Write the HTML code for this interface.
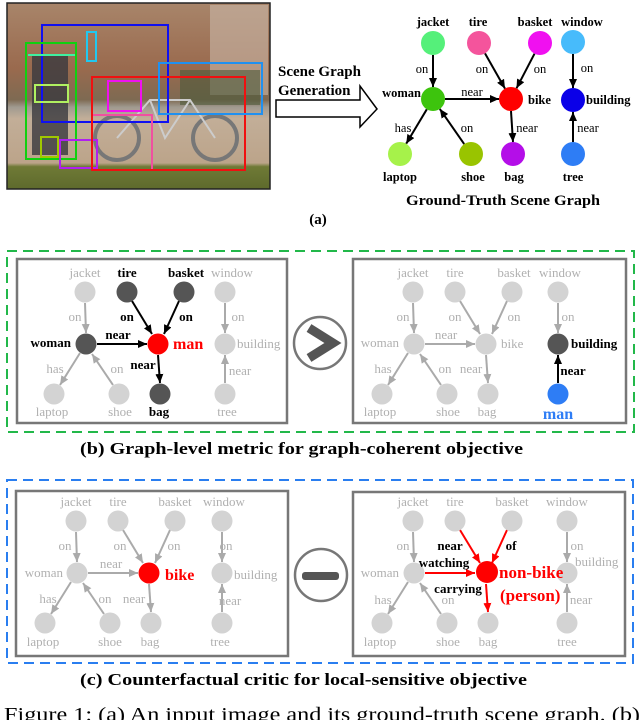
<!DOCTYPE html>
<html><head><meta charset="utf-8"><style>
html,body{margin:0;padding:0;background:#fff;}
svg{display:block;font-family:"Liberation Serif",serif;}
.g{fill:#b0b0b0;font-size:13px;}
.k{fill:#000;font-size:13px;font-weight:bold;}
.m{text-anchor:middle;}
.e{text-anchor:end;}
</style></head><body>
<svg width="640" height="720" viewBox="0 0 640 720" xmlns="http://www.w3.org/2000/svg">
<defs>
<marker id="ak" markerUnits="userSpaceOnUse" markerWidth="9" markerHeight="8" refX="9" refY="4" orient="auto"><path d="M0,0L9,4L0,8z" fill="#000"/></marker>
<marker id="ag" markerUnits="userSpaceOnUse" markerWidth="9" markerHeight="8" refX="9" refY="4" orient="auto"><path d="M0,0L9,4L0,8z" fill="#aaa"/></marker>
<marker id="ar" markerUnits="userSpaceOnUse" markerWidth="9" markerHeight="8" refX="9" refY="4" orient="auto"><path d="M0,0L9,4L0,8z" fill="#f00"/></marker>
<linearGradient id="ph" x1="0" y1="0" x2="0" y2="1">
<stop offset="0" stop-color="#a8856a"/><stop offset="0.35" stop-color="#9a6a4e"/><stop offset="0.52" stop-color="#7e6a52"/><stop offset="0.56" stop-color="#a09a90"/><stop offset="0.62" stop-color="#c2ae98"/><stop offset="0.86" stop-color="#bca48a"/><stop offset="0.88" stop-color="#6f7a36"/><stop offset="1" stop-color="#5e6a2c"/>
</linearGradient>
</defs>

<!-- (a) photo -->
<rect x="7" y="3" width="263" height="186" fill="url(#ph)" stroke="#222" stroke-width="1.5"/>
<rect x="210" y="5" width="58" height="90" fill="#c9b8a8" opacity="0.6"/>
<rect x="180" y="70" width="80" height="35" fill="#4d5a3a" opacity="0.6"/>
<ellipse cx="117" cy="138" rx="22" ry="22" fill="none" stroke="#777" stroke-width="4"/>
<ellipse cx="215" cy="138" rx="22" ry="22" fill="none" stroke="#777" stroke-width="4"/>
<path d="M117,138 L150,100 L190,100 L215,138 M150,100 L165,138 L190,100" fill="none" stroke="#ccc" stroke-width="2"/>
<rect x="32" y="55" width="36" height="100" fill="#3a3a3e" opacity="0.8"/>
<g fill="none" stroke-width="2">
<rect x="42" y="25" width="126" height="97" stroke="#1010f0"/>
<rect x="87" y="32" width="9" height="29" stroke="#20c8f0"/>
<rect x="26" y="43" width="50" height="116" stroke="#10d010"/>
<line x1="28" y1="55" x2="75" y2="55" stroke="#40f0a0"/>
<rect x="35" y="85" width="33" height="17" stroke="#b0f060"/>
<rect x="41" y="137" width="17" height="20" stroke="#a0c800"/>
<rect x="60" y="140" width="37" height="28" stroke="#b020f0"/>
<rect x="92" y="115" width="60" height="55" stroke="#f050a0"/>
<rect x="92" y="77" width="153" height="93" stroke="#f01010"/>
<rect x="108" y="81" width="33" height="30" stroke="#f010f0"/>
<rect x="159" y="63" width="103" height="51" stroke="#2090f0"/>
</g>

<text x="278" y="76" style="font-size:15px;font-weight:bold">Scene Graph</text>
<text x="278" y="95" style="font-size:15px;font-weight:bold">Generation</text>
<path d="M276,100 L360,100 L360,86 L377,109 L360,127 L360,117 L276,117 Z" fill="#fff" stroke="#000" stroke-width="1.5"/>

<!-- (a) graph -->
<g stroke="#000" stroke-width="2" marker-end="url(#ak)">
<path d="M433,55L433,87"/><path d="M485,53.4L505,88.6"/><path d="M534.5,53.7L516.5,88.3"/>
<path d="M573,54L573,88"/><path d="M445,99L499,99"/><path d="M511,111L513,142"/>
<path d="M426.8,109.3L406.2,143.7"/><path d="M464.2,144.1L439.8,108.9"/><path d="M573,142L573,112"/>
</g>
<circle cx="433" cy="43" r="12" fill="#55f07a"/><circle cx="479" cy="43" r="12" fill="#f4549c"/>
<circle cx="540" cy="43" r="12" fill="#f010f0"/><circle cx="573" cy="42" r="12" fill="#47bbfb"/>
<circle cx="433" cy="99" r="12" fill="#3dc40d"/><circle cx="511" cy="99" r="12" fill="#f00"/>
<circle cx="573" cy="100" r="12" fill="#0a00e8"/><circle cx="400" cy="154" r="12" fill="#a6f24a"/>
<circle cx="471" cy="154" r="12" fill="#99c400"/><circle cx="513" cy="154" r="12" fill="#b40ee8"/>
<circle cx="573" cy="154" r="12" fill="#2e7df5"/>
<g class="k" style="font-size:12.5px">
<text class="m" x="433" y="26">jacket</text><text class="m" x="478" y="26">tire</text>
<text class="m" x="535" y="26">basket</text><text class="m" x="582" y="26">window</text>
<text class="e" x="421" y="97">woman</text><text x="528" y="104">bike</text>
<text x="586" y="104">building</text><text class="m" x="400" y="181">laptop</text>
<text class="m" x="473" y="181">shoe</text><text class="m" x="514" y="181">bag</text>
<text class="m" x="573" y="181">tree</text>
</g>
<g style="font-size:12.5px" class="m">
<text x="422" y="73">on</text><text x="482" y="73">on</text><text x="540" y="73">on</text>
<text x="587" y="72">on</text><text x="472" y="96">near</text><text x="403" y="132">has</text>
<text x="467" y="132">on</text><text x="527" y="132">near</text><text x="588" y="132">near</text>
</g>
<text x="503" y="205" class="m" textLength="194" lengthAdjust="spacingAndGlyphs" style="font-size:15px;font-weight:bold">Ground-Truth Scene Graph</text>
<text x="318" y="224" class="m" style="font-size:15px;font-weight:bold">(a)</text>

<!-- (b) -->
<rect x="7" y="251" width="627" height="181" fill="none" stroke="#22b84a" stroke-width="2" stroke-dasharray="10,6"/>
<rect x="17" y="259" width="270" height="164" fill="none" stroke="#777" stroke-width="2.5"/>
<rect x="353" y="259" width="273" height="164" fill="none" stroke="#777" stroke-width="2.5"/>
<circle cx="320" cy="343" r="26" fill="#fff" stroke="#777" stroke-width="2.5"/>
<path d="M309,328 L333,343 L309,358" fill="none" stroke="#555" stroke-width="9" stroke-linejoin="miter"/>

<g transform="translate(17,259)">
<g stroke="#aaa" stroke-width="2" marker-end="url(#ag)">
<path d="M68,44L69,74"/><path d="M208,44L208,74"/><path d="M63,94L43,126"/><path d="M96,126L75,95"/><path d="M208,124L208,96"/>
</g>
<g stroke="#000" stroke-width="2" marker-end="url(#ak)">
<path d="M115,42L135,75"/><path d="M162,42L147,75"/><path d="M80,85L130,85"/><path d="M141,96L143,124"/>
</g>
<circle cx="68" cy="33" r="10.5" fill="#d3d3d3"/><circle cx="110" cy="33" r="10.5" fill="#555"/>
<circle cx="167" cy="33" r="10.5" fill="#555"/><circle cx="208" cy="33" r="10.5" fill="#d3d3d3"/>
<circle cx="69" cy="85" r="10.5" fill="#555"/><circle cx="141" cy="85" r="10.5" fill="#f00"/>
<circle cx="208" cy="85" r="10.5" fill="#d3d3d3"/><circle cx="37" cy="135" r="10.5" fill="#d3d3d3"/>
<circle cx="102" cy="135" r="10.5" fill="#d3d3d3"/><circle cx="143" cy="135" r="10.5" fill="#555"/>
<circle cx="208" cy="135" r="10.5" fill="#d3d3d3"/>
<g class="g">
<text class="m" x="68" y="18">jacket</text><text class="m" x="215" y="18">window</text>
<text x="220" y="89">building</text><text class="m" x="35" y="157">laptop</text>
<text class="m" x="103" y="157">shoe</text><text class="m" x="210" y="157">tree</text>
<text class="m" x="58" y="62">on</text><text class="m" x="221" y="62">on</text>
<text class="m" x="38" y="114">has</text><text class="m" x="100" y="114">on</text><text class="m" x="223" y="116">near</text>
</g>
<g class="k">
<text class="m" x="110" y="18">tire</text><text class="m" x="169" y="18">basket</text>
<text class="e" x="54" y="88">woman</text><text class="m" x="142" y="157">bag</text>
<text class="m" x="110" y="62">on</text><text class="m" x="169" y="62">on</text>
<text class="m" x="101" y="80">near</text><text class="m" x="126" y="110">near</text>
</g>
<text x="156" y="90" style="fill:#f00;font-size:16px;font-weight:bold">man</text>
</g>

<g transform="translate(345,259)">
<g stroke="#aaa" stroke-width="2" marker-end="url(#ag)">
<path d="M68,44L69,74"/><path d="M115,42L135,75"/><path d="M162,42L147,75"/><path d="M213,44L213,74"/>
<path d="M80,85L130,85"/><path d="M141,96L143,124"/><path d="M63,94L43,126"/><path d="M96,126L75,95"/>
</g>
<path d="M213,124L213,96" stroke="#000" stroke-width="2" marker-end="url(#ak)"/>
<g fill="#d3d3d3">
<circle cx="68" cy="33" r="10.5"/><circle cx="110" cy="33" r="10.5"/><circle cx="167" cy="33" r="10.5"/>
<circle cx="213" cy="33" r="10.5"/><circle cx="69" cy="85" r="10.5"/><circle cx="141" cy="85" r="10.5"/>
<circle cx="37" cy="135" r="10.5"/><circle cx="102" cy="135" r="10.5"/><circle cx="143" cy="135" r="10.5"/>
</g>
<circle cx="213" cy="85" r="10.5" fill="#555"/><circle cx="213" cy="135" r="10.5" fill="#2e7df5"/>
<g class="g">
<text class="m" x="68" y="18">jacket</text><text class="m" x="110" y="18">tire</text>
<text class="m" x="169" y="18">basket</text><text class="m" x="215" y="18">window</text>
<text class="e" x="54" y="88">woman</text><text x="156" y="89">bike</text>
<text class="m" x="35" y="157">laptop</text><text class="m" x="103" y="157">shoe</text><text class="m" x="142" y="157">bag</text>
<text class="m" x="58" y="62">on</text><text class="m" x="110" y="62">on</text><text class="m" x="169" y="62">on</text>
<text class="m" x="223" y="62">on</text><text class="m" x="101" y="80">near</text>
<text class="m" x="38" y="114">has</text><text class="m" x="100" y="114">on</text><text class="m" x="126" y="114">near</text>
</g>
<g class="k"><text x="226" y="89">building</text><text class="m" x="228" y="116">near</text></g>
<text class="m" x="213" y="160" style="fill:#2e7df5;font-size:16px;font-weight:bold">man</text>
</g>
<text x="80" y="454" textLength="443" lengthAdjust="spacingAndGlyphs" style="font-size:17px;font-weight:bold">(b)  Graph-level metric for graph-coherent objective</text>

<!-- (c) -->
<rect x="7" y="480" width="626" height="183" fill="none" stroke="#2a7ef0" stroke-width="2" stroke-dasharray="10,6"/>
<rect x="16" y="491" width="272" height="165" fill="none" stroke="#777" stroke-width="2.5"/>
<rect x="353" y="492" width="272" height="164" fill="none" stroke="#777" stroke-width="2.5"/>
<circle cx="321" cy="575" r="26" fill="#fff" stroke="#777" stroke-width="2.5"/>
<rect x="302" y="572" width="37" height="8" rx="3" fill="#555"/>

<g transform="translate(8,488)">
<g stroke="#aaa" stroke-width="2" marker-end="url(#ag)">
<path d="M68,44L69,74"/><path d="M115,42L135,75"/><path d="M162,42L147,75"/><path d="M214,44L214,74"/>
<path d="M80,85L130,85"/><path d="M141,96L143,124"/><path d="M63,94L43,126"/><path d="M96,126L75,95"/><path d="M214,124L214,96"/>
</g>
<g fill="#d3d3d3">
<circle cx="68" cy="33" r="10.5"/><circle cx="110" cy="33" r="10.5"/><circle cx="167" cy="33" r="10.5"/>
<circle cx="214" cy="33" r="10.5"/><circle cx="69" cy="85" r="10.5"/><circle cx="214" cy="85" r="10.5"/>
<circle cx="37" cy="135" r="10.5"/><circle cx="102" cy="135" r="10.5"/><circle cx="143" cy="135" r="10.5"/><circle cx="214" cy="135" r="10.5"/>
</g>
<circle cx="141" cy="85" r="10.5" fill="#f00"/>
<g class="g">
<text class="m" x="68" y="18">jacket</text><text class="m" x="110" y="18">tire</text>
<text class="m" x="167" y="18">basket</text><text class="m" x="216" y="18">window</text>
<text class="e" x="55" y="89">woman</text><text x="226" y="91">building</text>
<text class="m" x="35" y="158">laptop</text><text class="m" x="102" y="158">shoe</text><text class="m" x="142" y="158">bag</text><text class="m" x="212" y="158">tree</text>
<text class="m" x="57" y="62">on</text><text class="m" x="112" y="62">on</text><text class="m" x="166" y="62">on</text>
<text class="m" x="218" y="62">on</text><text class="m" x="103" y="80">near</text>
<text class="m" x="40" y="115">has</text><text class="m" x="97" y="115">on</text><text class="m" x="126" y="115">near</text><text class="m" x="222" y="117">near</text>
</g>
<text x="157" y="92" style="fill:#f00;font-size:16px;font-weight:bold">bike</text>
</g>

<g transform="translate(345,488)">
<g stroke="#aaa" stroke-width="2" marker-end="url(#ag)">
<path d="M68,44L69,74"/><path d="M222,44L222,74"/><path d="M63,94L43,126"/><path d="M96,126L75,95"/><path d="M222,124L222,96"/>
</g>
<g stroke="#f00" stroke-width="2" marker-end="url(#ar)">
<path d="M115,42L135,75"/><path d="M162,42L147,75"/><path d="M80,85L130,85"/><path d="M141,96L143,124"/>
</g>
<g fill="#d3d3d3">
<circle cx="68" cy="33" r="10.5"/><circle cx="110" cy="33" r="10.5"/><circle cx="167" cy="33" r="10.5"/>
<circle cx="222" cy="33" r="10.5"/><circle cx="69" cy="85" r="10.5"/><circle cx="222" cy="85" r="10.5"/>
<circle cx="37" cy="135" r="10.5"/><circle cx="102" cy="135" r="10.5"/><circle cx="143" cy="135" r="10.5"/><circle cx="222" cy="135" r="10.5"/>
</g>
<circle cx="142" cy="84" r="11" fill="#f00"/>
<g class="g">
<text class="m" x="68" y="18">jacket</text><text class="m" x="110" y="18">tire</text>
<text class="m" x="167" y="18">basket</text><text class="m" x="222" y="18">window</text>
<text class="e" x="54" y="89">woman</text><text x="230" y="78">building</text>
<text class="m" x="35" y="158">laptop</text><text class="m" x="103" y="158">shoe</text><text class="m" x="143" y="158">bag</text><text class="m" x="222" y="158">tree</text>
<text class="m" x="58" y="62">on</text><text class="m" x="232" y="62">on</text>
<text class="m" x="38" y="116">has</text><text class="m" x="103" y="116">on</text><text class="m" x="236" y="116">near</text>
</g>
<g class="k">
<text class="m" x="105" y="62">near</text><text class="m" x="166" y="62">of</text>
<text class="m" x="99" y="79">watching</text><text class="m" x="113" y="105">carrying</text>
</g>
<text x="154" y="90" style="fill:#f00;font-size:17px;font-weight:bold">non-bike</text>
<text x="155" y="113" style="fill:#f00;font-size:17px;font-weight:bold">(person)</text>
</g>
<text x="80" y="685" textLength="447" lengthAdjust="spacingAndGlyphs" style="font-size:17px;font-weight:bold">(c)   Counterfactual critic for local-sensitive objective</text>

<text x="4" y="721" textLength="636" lengthAdjust="spacingAndGlyphs" style="font-size:20px">Figure 1: (a) An input image and its ground-truth scene graph. (b)</text>
</svg>
</body></html>
